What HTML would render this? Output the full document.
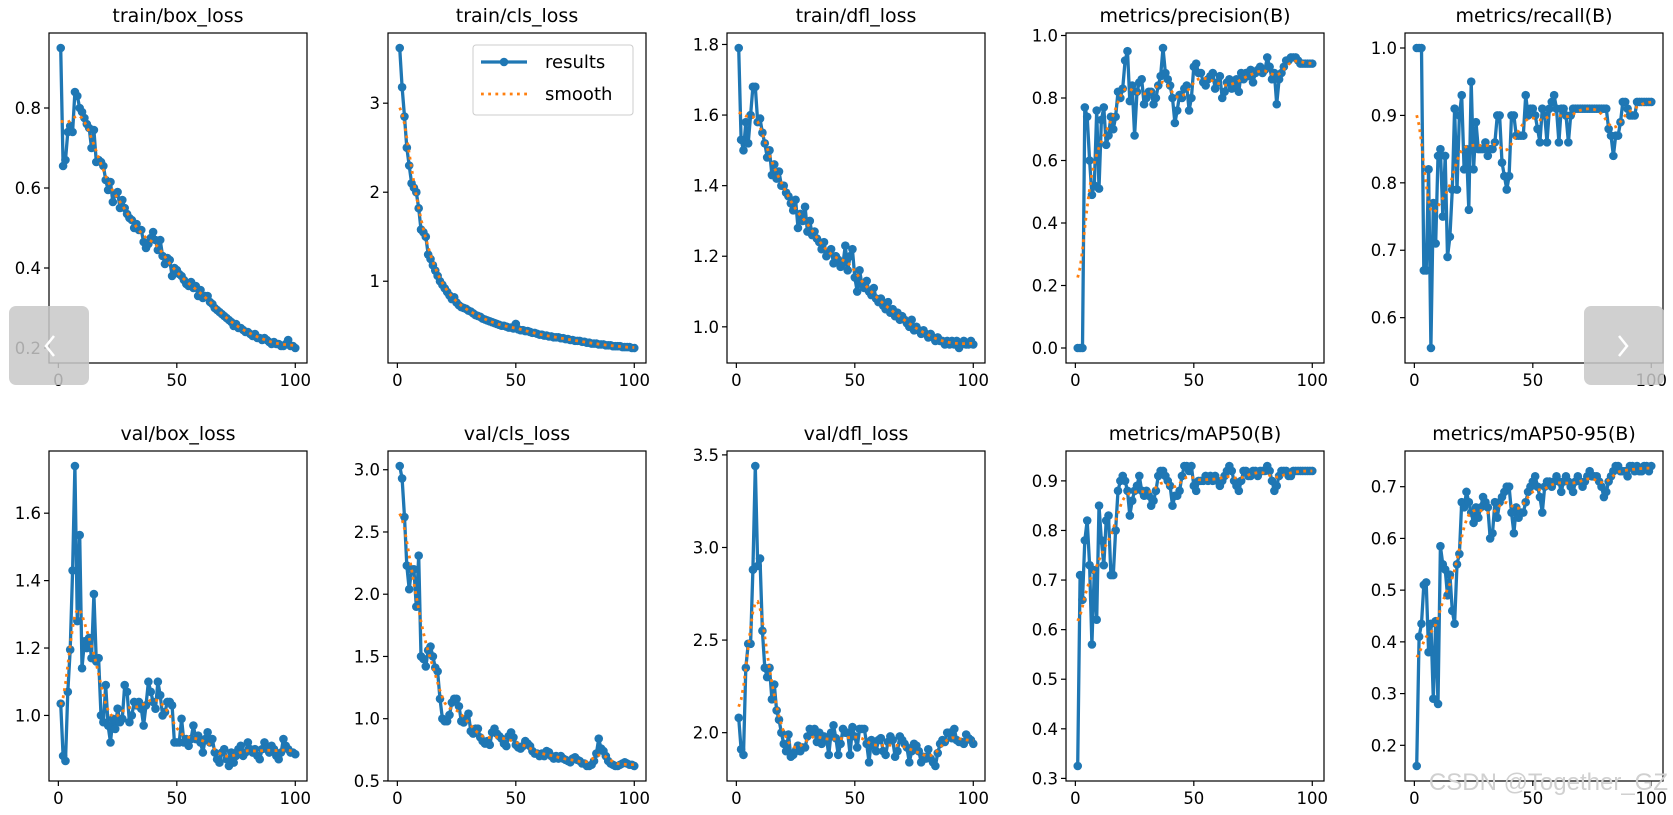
<!DOCTYPE html>
<html><head><meta charset="utf-8">
<style>
body{margin:0;background:#fff;}
svg text{font-family:"DejaVu Sans","Liberation Sans",sans-serif;fill:#000;}
</style></head>
<body>
<svg id="fig" width="1673" height="810" xmlns="http://www.w3.org/2000/svg"></svg>
<script>
const titles = ["train/box_loss","train/cls_loss","train/dfl_loss","metrics/precision(B)","metrics/recall(B)","val/box_loss","val/cls_loss","val/dfl_loss","metrics/mAP50(B)","metrics/mAP50-95(B)"];
const xTicks = [0,50,100];
const trainBox = [0.95,0.655,0.67,0.74,0.755,0.74,0.84,0.83,0.80,0.79,0.775,0.76,0.75,0.70,0.745,0.665,0.67,0.665,0.655,0.62,0.595,0.615,0.565,0.585,0.59,0.55,0.57,0.55,0.535,0.525,0.52,0.50,0.51,0.495,0.495,0.465,0.45,0.46,0.475,0.49,0.47,0.445,0.47,0.43,0.41,0.425,0.42,0.38,0.40,0.395,0.385,0.38,0.37,0.36,0.355,0.365,0.35,0.355,0.33,0.345,0.325,0.33,0.33,0.315,0.31,0.30,0.295,0.29,0.285,0.28,0.275,0.27,0.265,0.255,0.26,0.25,0.25,0.245,0.24,0.24,0.235,0.23,0.235,0.225,0.225,0.22,0.225,0.22,0.215,0.21,0.215,0.21,0.21,0.205,0.205,0.21,0.22,0.205,0.205,0.2];
const trainCls = [3.62,3.18,2.85,2.5,2.3,2.1,2.05,2.0,1.82,1.58,1.55,1.5,1.3,1.25,1.18,1.12,1.06,1.0,0.96,0.92,0.88,0.84,0.8,0.82,0.76,0.73,0.71,0.7,0.69,0.67,0.66,0.64,0.62,0.61,0.6,0.58,0.57,0.56,0.55,0.54,0.53,0.52,0.51,0.5,0.5,0.49,0.48,0.48,0.47,0.52,0.46,0.45,0.45,0.44,0.44,0.43,0.42,0.42,0.41,0.4,0.4,0.39,0.39,0.38,0.38,0.37,0.37,0.37,0.36,0.36,0.35,0.35,0.34,0.34,0.33,0.33,0.33,0.32,0.32,0.31,0.31,0.3,0.3,0.3,0.29,0.29,0.29,0.28,0.28,0.28,0.27,0.27,0.27,0.27,0.26,0.26,0.26,0.26,0.25,0.25];
const trainDfl = [1.79,1.53,1.50,1.58,1.52,1.60,1.68,1.68,1.58,1.59,1.55,1.52,1.48,1.50,1.43,1.46,1.42,1.44,1.40,1.40,1.38,1.37,1.35,1.33,1.36,1.28,1.32,1.30,1.34,1.27,1.30,1.26,1.27,1.25,1.24,1.22,1.24,1.20,1.21,1.22,1.18,1.20,1.19,1.17,1.18,1.23,1.16,1.20,1.22,1.14,1.10,1.16,1.12,1.11,1.13,1.10,1.09,1.11,1.08,1.07,1.08,1.06,1.05,1.07,1.04,1.05,1.03,1.04,1.02,1.03,1.02,1.01,1.00,1.02,0.99,1.00,0.99,0.98,0.99,0.98,0.97,0.98,0.97,0.96,0.97,0.96,0.96,0.95,0.96,0.95,0.96,0.95,0.96,0.94,0.95,0.96,0.95,0.95,0.96,0.95];
const precision = [0,0,0,0.77,0.74,0.6,0.49,0.52,0.76,0.51,0.73,0.77,0.65,0.68,0.74,0.70,0.74,0.82,0.80,0.83,0.92,0.95,0.79,0.84,0.68,0.82,0.85,0.86,0.78,0.80,0.82,0.82,0.78,0.80,0.84,0.87,0.96,0.88,0.86,0.84,0.80,0.72,0.76,0.81,0.80,0.83,0.84,0.76,0.80,0.90,0.91,0.88,0.88,0.85,0.84,0.86,0.87,0.88,0.83,0.85,0.87,0.80,0.82,0.85,0.86,0.83,0.84,0.86,0.82,0.88,0.86,0.88,0.87,0.89,0.85,0.88,0.89,0.90,0.88,0.89,0.93,0.90,0.86,0.88,0.78,0.86,0.88,0.90,0.92,0.92,0.93,0.93,0.93,0.92,0.91,0.91,0.91,0.91,0.91,0.91];
const recall = [1,1,1,0.67,0.67,0.82,0.555,0.77,0.71,0.84,0.85,0.75,0.84,0.69,0.72,0.79,0.91,0.79,0.90,0.93,0.82,0.85,0.76,0.95,0.82,0.89,0.85,0.85,0.85,0.86,0.84,0.85,0.85,0.86,0.90,0.90,0.83,0.81,0.79,0.81,0.90,0.90,0.87,0.87,0.87,0.87,0.93,0.90,0.91,0.91,0.90,0.88,0.86,0.91,0.90,0.86,0.91,0.92,0.93,0.91,0.86,0.91,0.91,0.90,0.86,0.90,0.91,0.91,0.91,0.91,0.91,0.91,0.91,0.91,0.91,0.91,0.91,0.91,0.91,0.91,0.91,0.88,0.87,0.84,0.87,0.87,0.89,0.92,0.92,0.91,0.90,0.90,0.90,0.92,0.92,0.92,0.92,0.92,0.92,0.92];
const valBox = [1.035,0.88,0.865,1.07,1.195,1.43,1.74,1.28,1.535,1.14,1.22,1.20,1.23,1.17,1.36,1.16,1.17,1.00,0.98,1.09,0.97,0.92,0.99,0.96,1.02,0.98,0.99,1.09,1.07,0.98,1.00,1.04,1.03,1.04,1.02,0.97,1.03,1.10,1.07,1.04,1.02,1.10,1.06,1.00,1.01,1.04,1.04,1.03,0.92,0.92,0.92,0.99,0.92,0.93,0.91,0.93,0.97,0.93,0.94,0.92,0.89,0.93,0.95,0.92,0.93,0.89,0.87,0.86,0.89,0.90,0.87,0.85,0.89,0.86,0.88,0.90,0.91,0.88,0.89,0.92,0.90,0.89,0.90,0.88,0.87,0.90,0.92,0.90,0.89,0.91,0.90,0.88,0.87,0.89,0.93,0.91,0.90,0.89,0.89,0.885];
const valCls = [3.03,2.93,2.62,2.23,2.04,2.2,2.2,1.9,2.31,1.5,1.48,1.42,1.55,1.58,1.5,1.41,1.38,1.16,1.0,0.98,0.98,1.03,1.13,1.16,1.16,1.1,0.98,0.97,1.0,1.04,0.9,0.88,0.92,0.92,0.85,0.82,0.8,0.82,0.79,0.89,0.92,0.88,0.86,0.84,0.8,0.78,0.86,0.89,0.85,0.79,0.77,0.76,0.78,0.82,0.8,0.78,0.74,0.72,0.72,0.7,0.72,0.7,0.74,0.73,0.70,0.68,0.7,0.68,0.7,0.68,0.67,0.66,0.65,0.68,0.69,0.67,0.66,0.64,0.64,0.62,0.62,0.63,0.66,0.72,0.84,0.76,0.74,0.7,0.66,0.64,0.63,0.62,0.62,0.63,0.64,0.65,0.64,0.63,0.63,0.62];
const valDfl = [2.08,1.91,1.88,2.35,2.48,2.48,2.88,3.44,2.9,2.94,2.55,2.35,2.3,2.35,2.18,2.26,2.12,2.07,2.0,1.94,1.90,1.99,1.87,1.88,1.9,1.93,1.9,1.92,1.92,1.98,2.02,2.0,2.02,1.95,2.0,1.94,1.98,1.97,1.88,2.0,2.04,1.97,1.88,1.94,2.02,2.0,2.0,1.88,2.03,1.98,1.92,2.02,2.02,2.02,1.94,1.84,1.96,1.93,1.90,1.96,1.97,1.90,1.88,1.95,1.98,1.96,1.87,1.90,1.98,1.96,1.94,1.92,1.84,1.90,1.94,1.93,1.90,1.84,1.87,1.86,1.91,1.86,1.84,1.82,1.89,1.94,1.96,1.95,2.0,2.0,1.97,2.02,1.96,1.95,1.95,1.94,1.99,1.97,1.96,1.94];
const map50 = [0.325,0.71,0.66,0.78,0.82,0.73,0.57,0.72,0.62,0.85,0.78,0.73,0.82,0.83,0.71,0.71,0.80,0.88,0.90,0.91,0.90,0.88,0.83,0.86,0.88,0.89,0.91,0.88,0.87,0.88,0.87,0.85,0.86,0.88,0.91,0.92,0.92,0.91,0.90,0.89,0.85,0.87,0.87,0.88,0.91,0.93,0.93,0.92,0.93,0.89,0.88,0.90,0.90,0.90,0.91,0.90,0.91,0.90,0.91,0.90,0.89,0.90,0.91,0.92,0.93,0.92,0.90,0.89,0.88,0.90,0.92,0.92,0.91,0.91,0.92,0.92,0.91,0.92,0.92,0.92,0.93,0.92,0.90,0.88,0.89,0.91,0.92,0.92,0.92,0.91,0.91,0.92,0.92,0.92,0.92,0.92,0.92,0.92,0.92,0.92];
const map5095 = [0.16,0.41,0.435,0.51,0.515,0.38,0.435,0.29,0.44,0.28,0.585,0.55,0.54,0.49,0.53,0.46,0.435,0.55,0.57,0.67,0.66,0.69,0.67,0.65,0.63,0.66,0.64,0.66,0.68,0.67,0.66,0.60,0.61,0.67,0.64,0.67,0.68,0.69,0.70,0.70,0.65,0.61,0.66,0.64,0.65,0.65,0.67,0.69,0.70,0.71,0.72,0.70,0.68,0.65,0.70,0.71,0.71,0.70,0.71,0.72,0.71,0.69,0.71,0.72,0.71,0.70,0.69,0.71,0.72,0.71,0.70,0.71,0.72,0.73,0.72,0.72,0.72,0.71,0.70,0.68,0.69,0.71,0.72,0.73,0.74,0.74,0.73,0.73,0.73,0.72,0.74,0.74,0.73,0.74,0.73,0.73,0.74,0.74,0.73,0.74];
const yTick0 = [0.2,0.4,0.6,0.8], yLab0 = ["0.2","0.4","0.6","0.8"];
const yTick1 = [1,2,3], yLab1 = ["1","2","3"];
const yTick2 = [1.0,1.2,1.4,1.6,1.8], yLab2 = ["1.0","1.2","1.4","1.6","1.8"];
const yTick3 = [0,0.2,0.4,0.6,0.8,1.0], yLab3 = ["0.0","0.2","0.4","0.6","0.8","1.0"];
const yTick4 = [0.6,0.7,0.8,0.9,1.0], yLab4 = ["0.6","0.7","0.8","0.9","1.0"];
const yTick5 = [1.0,1.2,1.4,1.6], yLab5 = ["1.0","1.2","1.4","1.6"];
const yTick6 = [0.5,1.0,1.5,2.0,2.5,3.0], yLab6 = ["0.5","1.0","1.5","2.0","2.5","3.0"];
const yTick7 = [2.0,2.5,3.0,3.5], yLab7 = ["2.0","2.5","3.0","3.5"];
const yTick8 = [0.3,0.4,0.5,0.6,0.7,0.8,0.9], yLab8 = ["0.3","0.4","0.5","0.6","0.7","0.8","0.9"];
const yTick9 = [0.2,0.3,0.4,0.5,0.6,0.7], yLab9 = ["0.2","0.3","0.4","0.5","0.6","0.7"];

const series=[trainBox,trainCls,trainDfl,precision,recall,valBox,valCls,valDfl,map50,map5095];
const yTicks=[yTick0,yTick1,yTick2,yTick3,yTick4,yTick5,yTick6,yTick7,yTick8,yTick9];
const yLabs=[yLab0,yLab1,yLab2,yLab3,yLab4,yLab5,yLab6,yLab7,yLab8,yLab9];
const NS="http://www.w3.org/2000/svg";
const svg=document.getElementById('fig');
function mk(tag,attrs,parent){const e=document.createElementNS(NS,tag);for(const k in attrs)e.setAttribute(k,attrs[k]);(parent||svg).appendChild(e);return e;}
function gauss(y,s){const r=Math.round(4*s),n=y.length,w=[];let sum=0;for(let k=-r;k<=r;k++){const v=Math.exp(-k*k/(2*s*s));w.push(v);sum+=v;}
 const out=[];for(let i=0;i<n;i++){let a=0;for(let k=-r;k<=r;k++){let j=i+k;while(j<0||j>=n){if(j<0)j=-j-1;if(j>=n)j=2*n-j-1;}a+=w[k+r]*y[j];}out.push(a/sum);}return out;}
const lefts=[49,388,727,1066,1405], W=258, tops=[33,451], H=330;
for(let p=0;p<10;p++){
 const data=series[p], sm=gauss(data,3);
 const L=lefts[p%5], T=tops[Math.floor(p/5)];
 const g=mk('g',{});
 
 
 const n=data.length;
 const x0=1-0.05*(n-1), x1=n+0.05*(n-1);
 const all=data.concat(sm); const mn=Math.min(...all), mx=Math.max(...all), rr=mx-mn;
 const y0=mn-0.05*rr, y1=mx+0.05*rr;
 const X=v=>L+(v-x0)/(x1-x0)*W, Y=v=>T+H-(v-y0)/(y1-y0)*H;
 const t=mk('text',{x:L+W/2,y:T-11,'text-anchor':'middle','font-size':'19'},g); t.textContent=titles[p];
 
 
 xTicks.forEach(v=>{mk('line',{x1:X(v),x2:X(v),y1:T+H,y2:T+H+5,stroke:'#000','stroke-width':1.2},g);
  const tx=mk('text',{x:X(v),y:T+H+23,'text-anchor':'middle','font-size':'16.5'},g);tx.textContent=v;
  
  });
 yTicks[p].forEach((v,i)=>{if(v<y0||v>y1)return;mk('line',{x1:L-5,x2:L,y1:Y(v),y2:Y(v),stroke:'#000','stroke-width':1.2},g);
  const ty=mk('text',{x:L-8,y:Y(v)+6,'text-anchor':'end','font-size':'16.5'},g);ty.textContent=yLabs[p][i];
  
  });
 const pts=data.map((v,i)=>X(i+1).toFixed(1)+','+Y(v).toFixed(1)).join(' ');
 const ln=mk('polyline',{points:pts,fill:'none',stroke:'#1f77b4','stroke-width':3.3,'stroke-linejoin':'round'},g);
 
 
 data.forEach((v,i)=>{const c=mk('circle',{cx:X(i+1),cy:Y(v),r:4.3,fill:'#1f77b4'},g);
  
  });
 const sp=sm.map((v,i)=>X(i+1).toFixed(1)+','+Y(v).toFixed(1)).join(' ');
 const sl=mk('polyline',{points:sp,fill:'none',stroke:'#ff7f0e','stroke-width':2.8,'stroke-dasharray':'2.8 4.4'},g);
 
 
 const fr=mk('rect',{x:L,y:T,width:W,height:H,fill:'none',stroke:'#000','stroke-width':1.2},g);
 
 
}
// legend
const lg=mk('g',{});


mk('rect',{x:473,y:45,width:160,height:70,rx:3,fill:'#fff','fill-opacity':0.8,stroke:'#ccc'},lg);
mk('line',{x1:481,x2:527,y1:62,y2:62,stroke:'#1f77b4','stroke-width':3.3},lg);
mk('circle',{cx:504,cy:62,r:4.3,fill:'#1f77b4'},lg);
const l1=mk('text',{x:545,y:68,'font-size':'18'},lg);l1.textContent='results';
mk('line',{x1:481,x2:527,y1:94,y2:94,stroke:'#ff7f0e','stroke-width':2.8,'stroke-dasharray':'2.8 4.4'},lg);
const l2=mk('text',{x:545,y:100,'font-size':'18'},lg);l2.textContent='smooth';
// nav overlays
const nl=mk('g',{});


mk('rect',{x:9,y:306,width:80,height:79,rx:7,fill:'#c8c8c8','fill-opacity':0.85},nl);
mk('path',{d:'M54 336 L46 346 L54 356',fill:'none',stroke:'#fff','stroke-width':2.5},nl);
const nr=mk('g',{});


mk('rect',{x:1584,y:306,width:80,height:79,rx:7,fill:'#c8c8c8','fill-opacity':0.85},nr);
mk('path',{d:'M1619 336 L1627 346 L1619 356',fill:'none',stroke:'#fff','stroke-width':2.5},nr);
const wm=mk('text',{x:1668,y:790,'text-anchor':'end','font-size':'24',fill:'#d8d8d8',style:'fill:#d0d0d0;font-family:"Liberation Sans",sans-serif'});
wm.textContent='CSDN @Together_GZ';


</script>
</body></html>
